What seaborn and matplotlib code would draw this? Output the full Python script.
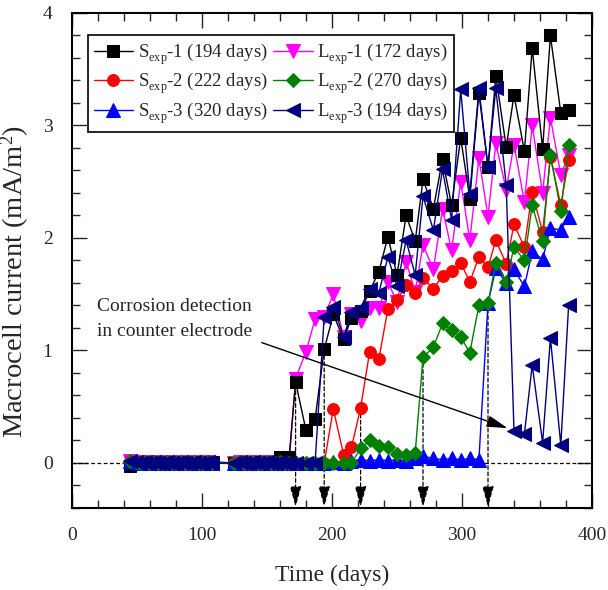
import seaborn as sns
import matplotlib.pyplot as plt
import matplotlib._mathtext as mathtext_internal
from matplotlib.ticker import MultipleLocator

# 아래첨자(exp)를 원본처럼 더 작고 더 낮게
mathtext_internal.FontConstantsBase.sub1 = 0.5
mathtext_internal.SHRINK_FACTOR = 0.65

# 초기 구간 (모든 시편이 거의 0)
early_days = [45, 49, 52, 56, 59, 63, 66, 70, 73, 77, 80, 84, 87, 91, 94, 98,
              101, 105, 108, 125, 129, 132, 136, 139, 143, 146, 150, 153, 157,
              160, 164, 167]
baseline_current = [0.02, 0.01, 0.0, 0.01, 0.0, 0.01, 0.0, 0.0, 0.01, 0.0, 0.0,
                    0.01, 0.0, 0.0, 0.01, 0.0, 0.0, 0.01, 0.0, 0.0, 0.01, 0.0,
                    0.0, 0.01, 0.0, 0.0, 0.01, 0.0, 0.0, 0.01, 0.0, 0.0]
s1_early = [-0.03, 0.0, 0.0, 0.01, 0.0, 0.0, 0.01, 0.0, 0.0, 0.01, 0.0, 0.0,
            0.01, 0.0, 0.0, 0.01, 0.0, 0.0, 0.01, 0.0, 0.0, 0.01, 0.0, 0.0,
            0.01, 0.0, 0.0, 0.01, 0.0, 0.05, 0.03, 0.05]

# 부식 발생 이후 구간
late_days = [172, 180, 187, 194, 201, 209, 215, 222, 229, 236, 243, 250, 257,
             264, 270, 278, 285, 292, 299, 306, 313, 320, 326, 334, 340, 348,
             354, 362, 368, 376, 382]
s1_late = [0.72, 0.29, 0.39, 1.01, 1.32, 1.10, 1.29, 1.35, 1.53, 1.70, 2.01,
           1.67, 2.20, 1.97, 2.52, 2.26, 2.70, 2.29, 2.89, 2.35, 3.29, 2.63,
           3.44, 2.81, 3.27, 2.77, 3.69, 2.79, 3.80, 3.11, 3.14]
s2_late = [0.0, 0.0, 0.0, 0.0, 0.48, 0.07, 0.14, 0.49, 0.99, 0.92, 1.37, 1.45,
           1.58, 1.51, 1.64, 1.55, 1.66, 1.71, 1.78, 1.61, 1.83, 1.74, 1.98,
           1.77, 2.12, 1.92, 2.41, 2.05, 2.72, 2.29, 2.69]
s3_late = [0.0, 0.0, 0.0, 0.0, 0.01, 0.0, 0.02, 0.03, 0.02, 0.03, 0.02, 0.03,
           0.02, 0.04, 0.06, 0.04, 0.03, 0.04, 0.03, 0.04, 0.03, 1.42, 1.73,
           1.60, 1.72, 1.57, 1.88, 1.81, 2.09, 2.07, 2.19]
l1_late = [0.75, 0.99, 1.28, 1.30, 1.50, 1.12, 1.32, 1.26, 1.38, 1.38, 1.61,
           1.43, 1.79, 1.52, 1.94, 1.72, 2.26, 1.89, 2.50, 1.98, 2.71, 2.19,
           2.84, 2.43, 2.83, 2.32, 3.00, 2.40, 3.07, 2.56, 2.74]
l2_late = [0.0, 0.0, 0.0, 0.0, 0.0, 0.0, 0.0, 0.13, 0.20, 0.15, 0.14, 0.08,
           0.07, 0.09, 0.94, 1.03, 1.24, 1.18, 1.12, 0.98, 1.40, 1.42, 1.78,
           1.61, 1.92, 1.80, 2.29, 1.97, 2.74, 2.24, 2.83]
l3_late = [0.0, 0.0, 0.0, 1.30, 1.39, 1.12, 1.34, 1.38, 1.55, 1.51, 1.83,
           1.57, 1.98, 1.67, 2.37, 2.07, 2.61, 2.16, 3.32, 2.39, 3.33, 2.63,
           3.33, 2.47, 0.28, 0.26, 0.87, 0.18, 1.11, 0.16, 1.40]

labels = [r'S$_{\rm exp}$-1 (194 days)', r'S$_{\rm exp}$-2 (222 days)',
          r'S$_{\rm exp}$-3 (320 days)', r'L$_{\rm exp}$-1 (172 days)',
          r'L$_{\rm exp}$-2 (270 days)', r'L$_{\rm exp}$-3 (194 days)']
colors = ['black', 'red', 'blue', 'magenta', 'green', 'navy']
markers = ['s', 'o', '^', 'v', 'D', '<']
msizes = [8, 8.5, 9.5, 9.5, 7.5, 9.5]
zorders = [2.1, 2.2, 2.3, 2.0, 2.4, 2.5]

# 부식 검출 시점 (세로 화살표)
detect_days = [172, 194, 222, 270, 320]
detect_current = [0.75, 1.01, 0.49, 0.94, 1.42]

series = [s1_early + s1_late,
          baseline_current + s2_late,
          baseline_current + s3_late,
          baseline_current + l1_late,
          baseline_current + l2_late,
          baseline_current + l3_late]
days = early_days + late_days

sns.set_style('ticks')
plt.rcParams['font.family'] = ['Liberation Serif', 'DejaVu Serif']
plt.rcParams['mathtext.fontset'] = 'custom'
plt.rcParams['mathtext.rm'] = 'Liberation Serif'
plt.rcParams['mathtext.it'] = 'Liberation Serif:italic'

fig = plt.figure(figsize=(6.08, 5.90), dpi=100)
ax = fig.add_axes([0.1184, 0.139, 0.8553, 0.839])

ax.axhline(0, color='black', lw=0.9, ls=(0, (3, 2)), zorder=1)

for vals, lab, c, m, ms, z in zip(series, labels, colors, markers, msizes, zorders):
    sns.lineplot(x=days, y=vals, ax=ax, color=c, marker=m, markersize=ms,
                 markeredgecolor=c, lw=1.0, label=lab, sort=False,
                 estimator=None, zorder=z)

for d, y0 in zip(detect_days, detect_current):
    ax.annotate('', xy=(d, -0.39), xytext=(d, y0),
                arrowprops=dict(arrowstyle='-|>,head_length=0.9,head_width=0.25',
                                color='black', lw=0.9, ls=(0, (3, 2)),
                                shrinkA=0, shrinkB=0, mutation_scale=14),
                zorder=1.5)

ax.annotate('', xy=(335, 0.31), xytext=(146, 1.07),
            arrowprops=dict(arrowstyle='-|>,head_length=0.9,head_width=0.25',
                            color='black', lw=1.0, shrinkA=0, shrinkB=0,
                            mutation_scale=14), zorder=3)
ax.text(19, 1.28, 'Corrosion detection\nin counter electrode', fontsize=14,
        va='center', ha='left', linespacing=1.65)

ax.set_xlim(0, 400)
ax.set_ylim(-0.4, 4)
ax.xaxis.set_major_locator(MultipleLocator(100))
ax.xaxis.set_minor_locator(MultipleLocator(20))
ax.yaxis.set_major_locator(MultipleLocator(1))
ax.yaxis.set_minor_locator(MultipleLocator(0.2))
ax.tick_params(which='both', direction='in', top=True, right=True,
               labelsize=14, width=1.0, pad=14)
ax.tick_params(which='major', length=11)
ax.tick_params(which='minor', length=6)
for sp in ax.spines.values():
    sp.set_linewidth(1.5)
    sp.set_color('black')

ax.set_xlabel('Time (days)', fontsize=17, labelpad=15)
ax.set_ylabel(r'Macrocell current (mA/m$^{\rm 2}$)', fontsize=20.5)
ax.yaxis.set_label_coords(-0.076, 0.457)

handles, labs = ax.get_legend_handles_labels()
order = [labs.index(l) for l in labels]
leg = ax.legend([handles[i] for i in order], [labs[i] for i in order], ncol=2,
                loc='upper left', bbox_to_anchor=(0.031, 0.955), borderaxespad=0,
                fontsize=13.5, frameon=True, fancybox=False, edgecolor='black',
                framealpha=1, handlelength=2.1, handletextpad=0.25,
                columnspacing=0.3, labelspacing=0.2, borderpad=0.3)
leg.get_frame().set_linewidth(1.2)

fig.savefig('out.png', dpi=100)
